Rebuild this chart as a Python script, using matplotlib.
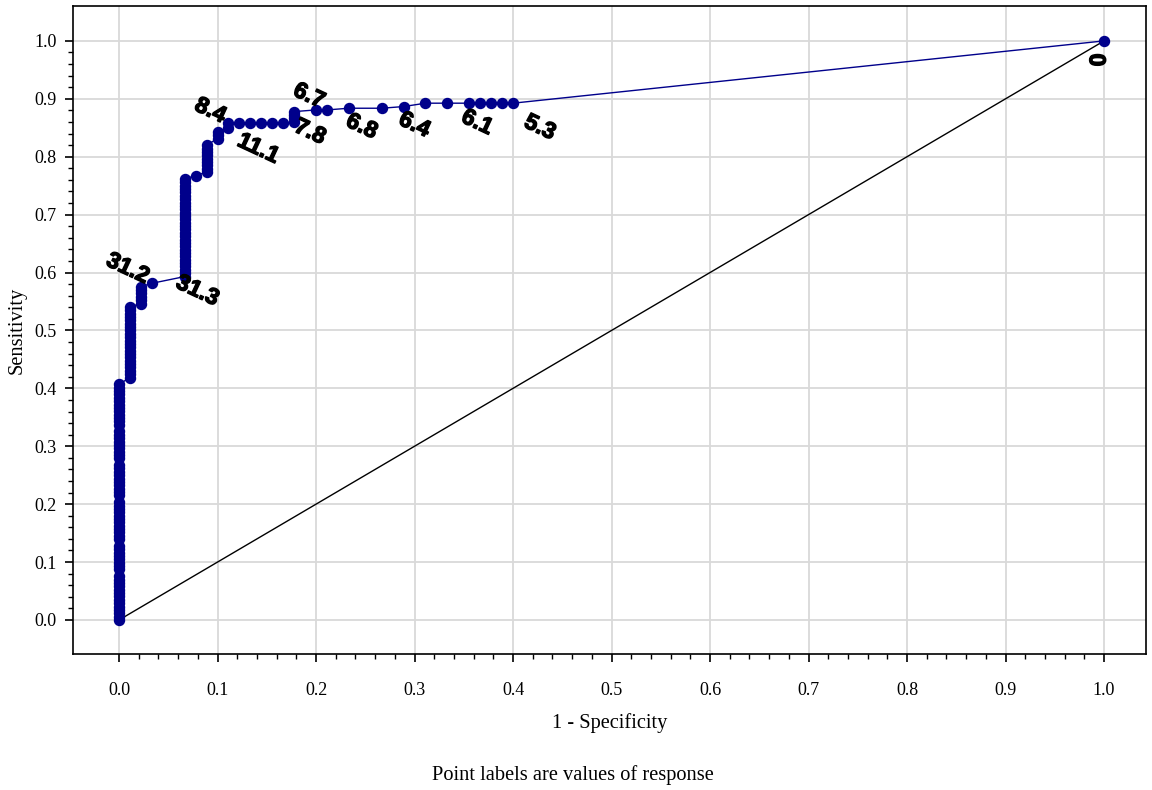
import numpy as np
import matplotlib.pyplot as plt
import matplotlib.patheffects as pe
from matplotlib.ticker import MultipleLocator, FixedLocator

# totals used to turn counts into rates
n_neg = 90
n_pos = 344

# false positive count at each step of the curve, and the true positive counts reached there
fp_steps = [0, 1, 2, 3, 6, 7, 8, 9, 10, 11, 12, 13, 14, 15, 16,
            18, 19, 21, 24, 26, 28, 30, 32, 33, 34, 35, 36, 90]
tp_runs = [
    [0, 2, 4, 6, 8, 10, 12, 14, 16, 18, 20, 22, 24, 26, 30, 32, 34, 36, 38, 40, 42,
     44, 48, 50, 52, 54, 56, 58, 60, 62, 64, 66, 68, 70, 74, 76, 78, 80, 82, 84, 86,
     88, 90, 92, 96, 98, 100, 102, 104, 106, 108, 110, 112, 116, 118, 120, 122, 124,
     126, 128, 130, 132, 134, 136, 138, 140],
    [144, 146, 148, 150, 152, 154, 156, 158, 160, 162, 164, 166, 168, 170, 172, 174,
     176, 178, 180, 182, 184, 186],
    [188, 190, 192, 194, 196, 198],
    [200],
    [204, 206, 208, 210, 212, 214, 216, 218, 220, 222, 224, 226, 228, 230, 232, 234,
     236, 238, 240, 242, 244, 246, 248, 250, 252, 254, 256, 258, 260, 262],
    [264],
    [266, 268, 270, 272, 274, 276, 278, 280, 282],
    [286, 288, 290],
    [292, 295],
    [295], [295], [295], [295], [295],
    [296, 298, 300, 302],
    [303], [303], [304], [304], [305],
    [307], [307], [307], [307], [307], [307], [307],
    [344],
]

# cut-off values printed next to the curve
label_text = ['31.2', '31.3', '8.4', '11.1', '6.7', '7.8', '6.8', '6.4', '6.1', '5.3', '0']
label_fp = [3, 6, 10, 11, 16, 16, 21, 26, 32, 36, 90]
label_tp = [200, 204, 295, 295, 302, 296, 304, 305, 307, 307, 344]
label_dx = [-24, 13, -18, 19, 15, 16, 13, 11, 8, 27, -5]
label_dy = [15, -14, 13, -25, 16, -10, -18, -18, -19, -24, -19]
label_rot = [-25] * 10 + [90]

fp = []
tp = []
for f, run in zip(fp_steps, tp_runs):
    for t in run:
        fp.append(f)
        tp.append(t)
fpr = np.array(fp) / n_neg
tpr = np.array(tp) / n_pos

plt.rcParams['font.family'] = ['Liberation Serif', 'DejaVu Serif']
fig = plt.figure(figsize=(11.52, 7.90), dpi=100)
ax = fig.add_axes([0.0634, 0.1722, 0.9314, 0.8203])

ax.plot([0, 1], [0, 1], color='black', lw=1, zorder=2)
ax.plot(fpr, tpr, '-o', color='#00008B', lw=1, ms=7.2, zorder=3)

for txt, f, t, dx, dy, rot in zip(label_text, label_fp, label_tp, label_dx, label_dy, label_rot):
    ax.annotate(txt, (f / n_neg, t / n_pos), xytext=(dx, dy), textcoords='offset pixels',
                ha='center', va='center', rotation=rot, fontsize=16.5,
                fontweight='bold', family='Liberation Sans', color='black', zorder=4,
                path_effects=[pe.withStroke(linewidth=1.0, foreground='black')])

ax.set_xlim(-0.0467, 1.0426)
ax.set_ylim(-0.0587, 1.0604)
ax.xaxis.set_major_locator(MultipleLocator(0.1))
ax.yaxis.set_major_locator(MultipleLocator(0.1))
minor = [v / 50 for v in range(51) if v % 5]
ax.xaxis.set_minor_locator(FixedLocator(minor))
ax.yaxis.set_minor_locator(FixedLocator(minor))
ax.xaxis.set_major_formatter(plt.FuncFormatter(lambda v, p: f'{v:.1f}'))
ax.yaxis.set_major_formatter(plt.FuncFormatter(lambda v, p: f'{v:.1f}'))
ax.tick_params(which='major', length=6, width=1.2, labelsize=13, pad=14, color='black')
ax.tick_params(axis='y', which='major', pad=6)
ax.tick_params(which='minor', length=3.5, width=1)
ax.grid(True, which='major', color='#d9d9d9', lw=1.3, zorder=0)
ax.set_axisbelow(True)
for sp in ax.spines.values():
    sp.set_linewidth(1.2)

ax.set_xlabel('1 - Specificity', fontsize=14.7, labelpad=10)
ax.set_ylabel('Sensitivity', fontsize=14.7, labelpad=5)
fig.text(0.497, 0.019, 'Point labels are values of response', ha='center', va='center', fontsize=14.7)

fig.savefig('out.png', dpi=100)
